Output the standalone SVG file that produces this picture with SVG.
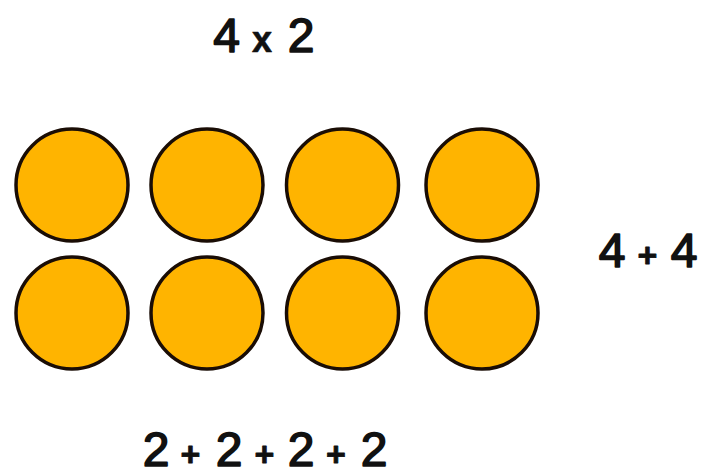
<svg xmlns="http://www.w3.org/2000/svg" width="702" height="469" viewBox="0 0 702 469">
  <style>
    .dot { fill: #FFB400; stroke: #1a0d05; stroke-width: 3.5; }
    .lbl { font-family: "Liberation Sans", Arial, sans-serif; fill: #111; stroke: #111; stroke-width: 1.6; stroke-linejoin: round; text-anchor: middle; font-size: 48px; }
    .op { font-size: 34px; font-weight: bold; stroke-width: 0.8; }
    .x { font-size: 36px; font-weight: bold; stroke-width: 0.6; }
  </style>
  <rect width="702" height="469" fill="#ffffff"/>
  <g id="dots">
    <g id="dot-1-1"><circle class="dot" cx="72" cy="185" r="56"/></g>
    <g id="dot-1-2"><circle class="dot" cx="207" cy="185" r="56"/></g>
    <g id="dot-1-3"><circle class="dot" cx="342.5" cy="185" r="56"/></g>
    <g id="dot-1-4"><circle class="dot" cx="482" cy="185" r="56"/></g>
    <g id="dot-2-1"><circle class="dot" cx="72" cy="313" r="56"/></g>
    <g id="dot-2-2"><circle class="dot" cx="207" cy="313" r="56"/></g>
    <g id="dot-2-3"><circle class="dot" cx="342.5" cy="313" r="56"/></g>
    <g id="dot-2-4"><circle class="dot" cx="482" cy="313" r="56"/></g>
  </g>
  <g id="label-top">
    <text class="lbl" y="52"><tspan x="226.5">4</tspan><tspan class="x" x="262">x</tspan><tspan x="301">2</tspan></text>
  </g>
  <g id="label-right">
    <text class="lbl" y="267"><tspan x="612">4</tspan><tspan class="op" x="647.5">+</tspan><tspan x="684">4</tspan></text>
  </g>
  <g id="label-bottom">
    <text class="lbl" y="466"><tspan x="156">2</tspan><tspan class="op" x="190.5">+</tspan><tspan x="229">2</tspan><tspan class="op" x="264.5">+</tspan><tspan x="301">2</tspan><tspan class="op" x="336">+</tspan><tspan x="374">2</tspan></text>
  </g>
  <g id="connectors"/>
</svg>
